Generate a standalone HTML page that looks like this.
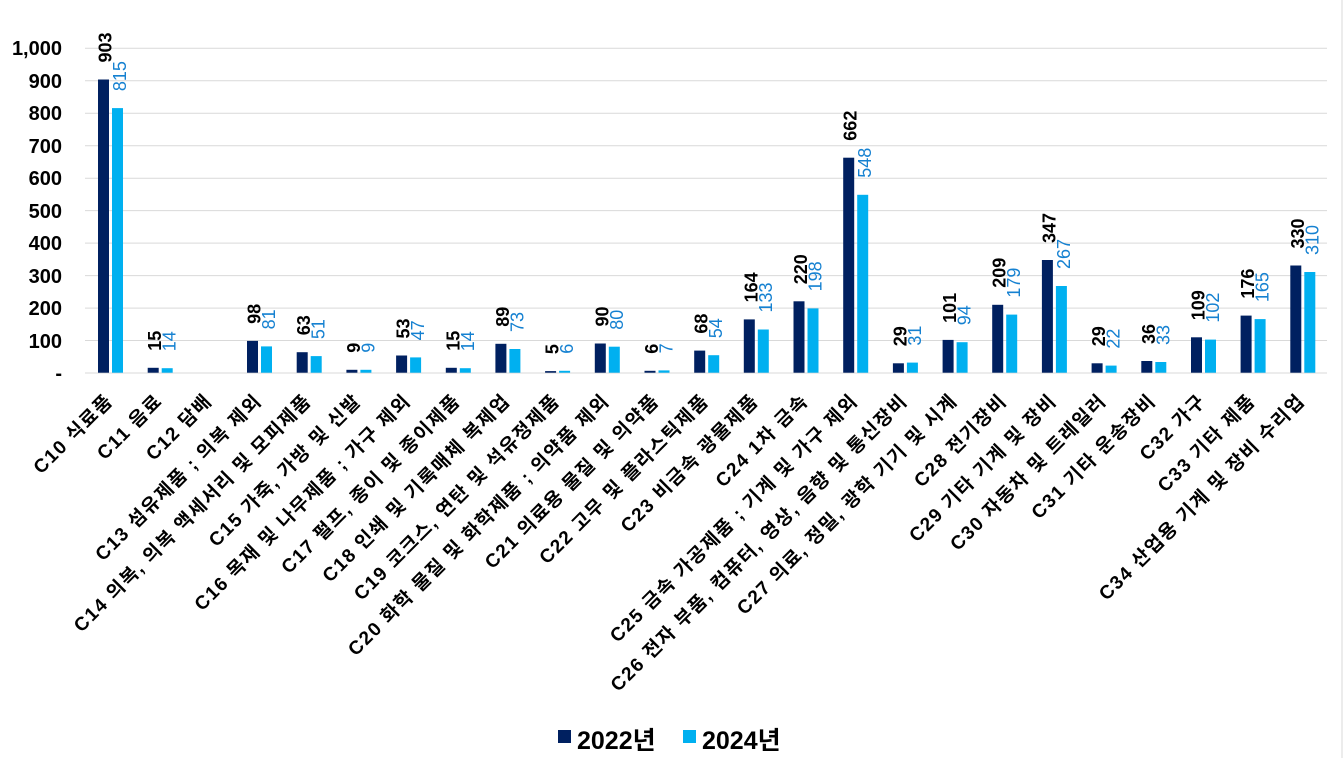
<!DOCTYPE html>
<html><head><meta charset="utf-8"><style>
body{margin:0;background:#fff}
svg{display:block}
.yt{font:bold 20px "Liberation Sans",sans-serif;text-anchor:end}
.d{font:bold 18px "Liberation Sans",sans-serif;fill:#000}
.l{font:18px "Liberation Sans",sans-serif;fill:#1581d1}
.x{font:600 19px "Liberation Sans","Noto Sans CJK KR",sans-serif;letter-spacing:1.5px;text-anchor:end;fill:#000}
.lg{font:bold 25px "Liberation Sans","Noto Sans CJK KR",sans-serif}
</style></head><body>
<svg width="1343" height="758" viewBox="0 0 1343 758" xmlns="http://www.w3.org/2000/svg">
<rect x="0" y="0" width="1343" height="758" fill="#fff"/>
<line x1="1342" y1="0" x2="1342" y2="758" stroke="#d9d9d9" stroke-width="1"/>
<g stroke="#d9d9d9" stroke-width="1">
<line x1="85" x2="1327" y1="48.3" y2="48.3"/><line x1="85" x2="1327" y1="80.7" y2="80.7"/>
<line x1="85" x2="1327" y1="113.2" y2="113.2"/><line x1="85" x2="1327" y1="145.7" y2="145.7"/>
<line x1="85" x2="1327" y1="178.2" y2="178.2"/><line x1="85" x2="1327" y1="210.6" y2="210.6"/>
<line x1="85" x2="1327" y1="243.1" y2="243.1"/><line x1="85" x2="1327" y1="275.6" y2="275.6"/>
<line x1="85" x2="1327" y1="308.1" y2="308.1"/><line x1="85" x2="1327" y1="340.5" y2="340.5"/>
<line x1="85" x2="1327" y1="373" y2="373"/>
</g>
<g class="yt">
<text x="62" y="55">1,000</text><text x="62" y="88">900</text><text x="62" y="120">800</text>
<text x="62" y="153">700</text><text x="62" y="185">600</text><text x="62" y="218">500</text>
<text x="62" y="250">400</text><text x="62" y="283">300</text><text x="62" y="315">200</text>
<text x="62" y="348">100</text><text x="62" y="380">-</text>
</g>
<g fill="#002060">
<rect x="98" y="79.5" width="11" height="293.2"/>
<rect x="147.7" y="367.8" width="11" height="4.9"/>
<rect x="247" y="340.9" width="11" height="31.8"/>
<rect x="296.7" y="352.2" width="11" height="20.5"/>
<rect x="346.4" y="369.8" width="11" height="2.9"/>
<rect x="396.1" y="355.5" width="11" height="17.2"/>
<rect x="445.8" y="367.8" width="11" height="4.9"/>
<rect x="495.4" y="343.8" width="11" height="28.9"/>
<rect x="545.1" y="371.1" width="11" height="1.6"/>
<rect x="594.8" y="343.5" width="11" height="29.2"/>
<rect x="644.5" y="370.8" width="11" height="1.9"/>
<rect x="694.2" y="350.6" width="11" height="22.1"/>
<rect x="743.8" y="319.4" width="11" height="53.3"/>
<rect x="793.5" y="301.3" width="11" height="71.4"/>
<rect x="843.2" y="157.7" width="11" height="215"/>
<rect x="892.9" y="363.3" width="11" height="9.4"/>
<rect x="942.6" y="339.9" width="11" height="32.8"/>
<rect x="992.2" y="304.8" width="11" height="67.9"/>
<rect x="1041.9" y="260" width="11" height="112.7"/>
<rect x="1091.6" y="363.3" width="11" height="9.4"/>
<rect x="1141.3" y="361" width="11" height="11.7"/>
<rect x="1191" y="337.3" width="11" height="35.4"/>
<rect x="1240.6" y="315.6" width="11" height="57.1"/>
<rect x="1290.3" y="265.5" width="11" height="107.2"/>
</g>
<g fill="#00b0f0">
<rect x="112" y="108.1" width="11" height="264.6"/>
<rect x="161.7" y="368.2" width="11" height="4.5"/>
<rect x="261" y="346.4" width="11" height="26.3"/>
<rect x="310.7" y="356.1" width="11" height="16.6"/>
<rect x="360.4" y="369.8" width="11" height="2.9"/>
<rect x="410.1" y="357.4" width="11" height="15.3"/>
<rect x="459.8" y="368.2" width="11" height="4.5"/>
<rect x="509.4" y="349" width="11" height="23.7"/>
<rect x="559.1" y="370.8" width="11" height="1.9"/>
<rect x="608.8" y="346.7" width="11" height="26"/>
<rect x="658.5" y="370.4" width="11" height="2.3"/>
<rect x="708.2" y="355.2" width="11" height="17.5"/>
<rect x="757.8" y="329.5" width="11" height="43.2"/>
<rect x="807.5" y="308.4" width="11" height="64.3"/>
<rect x="857.2" y="194.8" width="11" height="177.9"/>
<rect x="906.9" y="362.6" width="11" height="10.1"/>
<rect x="956.6" y="342.2" width="11" height="30.5"/>
<rect x="1006.2" y="314.6" width="11" height="58.1"/>
<rect x="1055.9" y="286" width="11" height="86.7"/>
<rect x="1105.6" y="365.6" width="11" height="7.1"/>
<rect x="1155.3" y="362" width="11" height="10.7"/>
<rect x="1205" y="339.6" width="11" height="33.1"/>
<rect x="1254.6" y="319.1" width="11" height="53.6"/>
<rect x="1304.3" y="272" width="11" height="100.7"/>
</g>
<g class="d">
<text transform="translate(111.5,62.5) rotate(-90)">903</text>
<text transform="translate(161.2,350.8) rotate(-90)">15</text>
<text transform="translate(260.5,323.9) rotate(-90)">98</text>
<text transform="translate(310.2,335.2) rotate(-90)">63</text>
<text transform="translate(359.9,352.8) rotate(-90)">9</text>
<text transform="translate(409.6,338.5) rotate(-90)">53</text>
<text transform="translate(459.3,350.8) rotate(-90)">15</text>
<text transform="translate(508.9,326.8) rotate(-90)">89</text>
<text transform="translate(558.6,354.1) rotate(-90)">5</text>
<text transform="translate(608.3,326.5) rotate(-90)">90</text>
<text transform="translate(658,353.8) rotate(-90)">6</text>
<text transform="translate(707.7,333.6) rotate(-90)">68</text>
<text transform="translate(757.3,302.4) rotate(-90)">164</text>
<text transform="translate(807,284.3) rotate(-90)">220</text>
<text transform="translate(856.7,140.7) rotate(-90)">662</text>
<text transform="translate(906.4,346.3) rotate(-90)">29</text>
<text transform="translate(956.1,322.9) rotate(-90)">101</text>
<text transform="translate(1005.7,287.8) rotate(-90)">209</text>
<text transform="translate(1055.4,243) rotate(-90)">347</text>
<text transform="translate(1105.1,346.3) rotate(-90)">29</text>
<text transform="translate(1154.8,344) rotate(-90)">36</text>
<text transform="translate(1204.5,320.3) rotate(-90)">109</text>
<text transform="translate(1254.1,298.6) rotate(-90)">176</text>
<text transform="translate(1303.8,248.5) rotate(-90)">330</text>
</g>
<g class="l">
<text transform="translate(126,91.1) rotate(-90)">815</text>
<text transform="translate(175.7,351.2) rotate(-90)">14</text>
<text transform="translate(275,329.4) rotate(-90)">81</text>
<text transform="translate(324.7,339.1) rotate(-90)">51</text>
<text transform="translate(374.4,352.8) rotate(-90)">9</text>
<text transform="translate(424.1,340.4) rotate(-90)">47</text>
<text transform="translate(473.8,351.2) rotate(-90)">14</text>
<text transform="translate(523.4,332) rotate(-90)">73</text>
<text transform="translate(573.1,353.8) rotate(-90)">6</text>
<text transform="translate(622.8,329.7) rotate(-90)">80</text>
<text transform="translate(672.5,353.4) rotate(-90)">7</text>
<text transform="translate(722.2,338.2) rotate(-90)">54</text>
<text transform="translate(771.8,312.5) rotate(-90)">133</text>
<text transform="translate(821.5,291.4) rotate(-90)">198</text>
<text transform="translate(871.2,177.8) rotate(-90)">548</text>
<text transform="translate(920.9,345.6) rotate(-90)">31</text>
<text transform="translate(970.6,325.2) rotate(-90)">94</text>
<text transform="translate(1020.2,297.6) rotate(-90)">179</text>
<text transform="translate(1069.9,269) rotate(-90)">267</text>
<text transform="translate(1119.6,348.6) rotate(-90)">22</text>
<text transform="translate(1169.3,345) rotate(-90)">33</text>
<text transform="translate(1219,322.6) rotate(-90)">102</text>
<text transform="translate(1268.6,302.1) rotate(-90)">165</text>
<text transform="translate(1318.3,255) rotate(-90)">310</text>
</g>
<g class="x">
<text transform="translate(114,402) rotate(-45)">C10 식료품</text>
<text transform="translate(163.5,402) rotate(-45)">C11 음료</text>
<text transform="translate(213.2,402) rotate(-45)">C12 담배</text>
<text transform="translate(262.9,402) rotate(-45)">C13 섬유제품 ; 의복 제외</text>
<text transform="translate(312.6,402) rotate(-45)">C14 의복, 의복 액세서리 및 모피제품</text>
<text transform="translate(362.2,402) rotate(-45)">C15 가죽, 가방 및 신발</text>
<text transform="translate(411.9,402) rotate(-45)">C16 목재 및 나무제품 ; 가구 제외</text>
<text transform="translate(461.6,402) rotate(-45)">C17 펄프, 종이 및 종이제품</text>
<text transform="translate(511.3,402) rotate(-45)">C18 인쇄 및 기록매체 복제업</text>
<text transform="translate(561,402) rotate(-45)">C19 코크스, 연탄 및 석유정제품</text>
<text transform="translate(610.6,402) rotate(-45)">C20 화학 물질 및 화학제품 ; 의약품 제외</text>
<text transform="translate(660.3,402) rotate(-45)">C21 의료용 물질 및 의약품</text>
<text transform="translate(710,402) rotate(-45)">C22 고무 및 플라스틱제품</text>
<text transform="translate(759.7,402) rotate(-45)">C23 비금속 광물제품</text>
<text transform="translate(809.4,402) rotate(-45)">C24 1차 금속</text>
<text transform="translate(859,402) rotate(-45)">C25 금속 가공제품 ; 기계 및 가구 제외</text>
<text transform="translate(908.7,402) rotate(-45)">C26 전자 부품, 컴퓨터, 영상, 음향 및 통신장비</text>
<text transform="translate(958.4,402) rotate(-45)">C27 의료, 정밀, 광학 기기 및 시계</text>
<text transform="translate(1008.1,402) rotate(-45)">C28 전기장비</text>
<text transform="translate(1057.8,402) rotate(-45)">C29 기타 기계 및 장비</text>
<text transform="translate(1107.4,402) rotate(-45)">C30 자동차 및 트레일러</text>
<text transform="translate(1157.1,402) rotate(-45)">C31 기타 운송장비</text>
<text transform="translate(1206.8,402) rotate(-45)">C32 가구</text>
<text transform="translate(1256.5,402) rotate(-45)">C33 기타 제품</text>
<text transform="translate(1306.1,402) rotate(-45)">C34 산업용 기계 및 장비 수리업</text>
</g>
<rect x="558" y="730" width="13" height="13" fill="#002060"/>
<text class="lg" x="577" y="749">2022년</text>
<rect x="683" y="730" width="13" height="13" fill="#00b0f0"/>
<text class="lg" x="702" y="749">2024년</text>
</svg>
</body></html>
